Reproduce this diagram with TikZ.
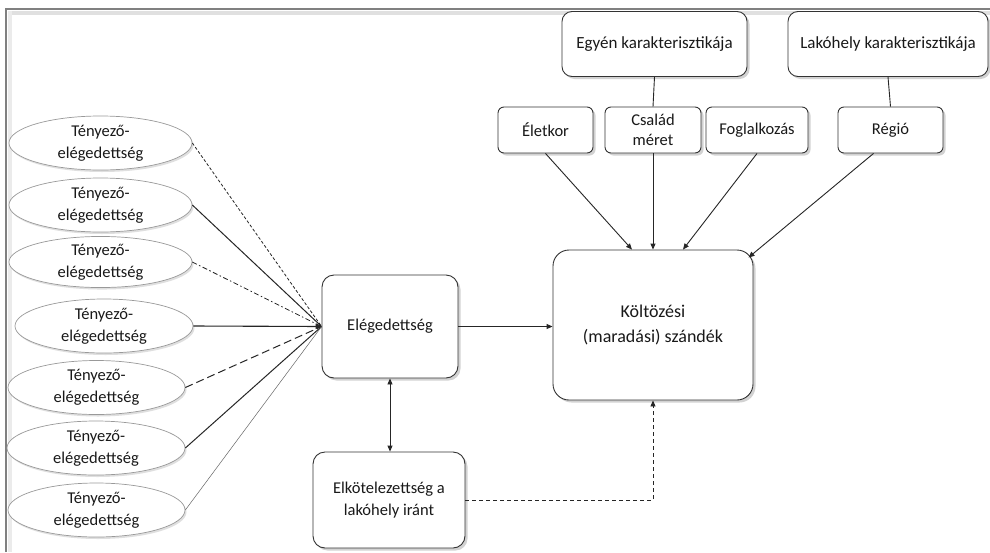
\documentclass[tikz,border=0pt]{standalone}
\usepackage{fontspec}
\setmainfont{Carlito}
\usetikzlibrary{shadows,arrows.meta,shapes.geometric}
\begin{document}
\begin{tikzpicture}[x=1pt,y=-1pt,
  every node/.style={font=\fontsize{16.5}{22}\selectfont, text=black!90},
  shd/.style={drop shadow={shadow xshift=2.5pt, shadow yshift=-2.5pt, opacity=0.35}},
  rbox/.style={draw=black!80, line width=0.9pt, fill=white, align=center, inner sep=0pt, shd},
  ell/.style={ellipse, draw=black!40, line width=0.7pt, fill=white, align=center, inner sep=0pt,
    minimum width=183pt, minimum height=54pt,
    drop shadow={shadow xshift=1.5pt, shadow yshift=-2pt, opacity=0.25}},
  tip/.style={-{Triangle[length=6pt,width=5pt]}},
  conn/.style={draw=black!85, line width=0.9pt}
]
\useasboundingbox (0,0) rectangle (990,552);
\fill[white] (0,0) rectangle (990,552);
% frame
\fill[black!12] (8,11) rectangle (990,15);
\fill[black!8] (8,11) rectangle (12,552);
\draw[black!50, line width=2pt] (6,552) -- (6,9) -- (990,9);

% top boxes
\node[rbox, rounded corners=10pt, minimum width=185pt, minimum height=65pt, font=\fontsize{17}{22}\selectfont] (egyen) at (654.5,44) {Egyén karakterisztikája};
\node[rbox, rounded corners=10pt, minimum width=200pt, minimum height=65pt, font=\fontsize{17}{22}\selectfont] (lakohely) at (888,44) {Lakóhely karakterisztikája};
\node[rbox, rounded corners=6pt, minimum width=95pt, minimum height=46pt] (eletkor) at (545.5,130) {Életkor};
\node[rbox, rounded corners=6pt, minimum width=96pt, minimum height=46pt, font=\fontsize{16.5}{20}\selectfont] (csalad) at (653,130) {Család\\méret};
\node[rbox, rounded corners=6pt, minimum width=102pt, minimum height=46pt] (foglal) at (757,130) {Foglalkozás};
\node[rbox, rounded corners=6pt, minimum width=105pt, minimum height=46pt] (regio) at (890.5,130) {Régió};

% main boxes
\node[rbox, rounded corners=16pt, minimum width=200pt, minimum height=150pt, font=\fontsize{18}{25}\selectfont] (kolt) at (653,325) {Költözési\\(maradási) szándék};
\node[rbox, rounded corners=12pt, minimum width=136pt, minimum height=103pt] (eleg) at (390,326.5) {Elégedettség};
\node[rbox, rounded corners=12pt, minimum width=152pt, minimum height=96pt] (elkot) at (389,500) {Elkötelezettség a\\lakóhely iránt};

% ellipses
\node[ell] (e1) at (100.5,143) {Tényező-\\elégedettség};
\node[ell] (e2) at (100.5,205) {Tényező-\\elégedettség};
\node[ell, minimum height=50pt] (e3) at (100.5,262) {Tényező-\\elégedettség};
\node[ell, minimum width=178pt] (e4) at (104,326) {Tényező-\\elégedettség};
\node[ell, minimum width=177pt] (e5) at (96.5,387.5) {Tényező-\\elégedettség};
\node[ell, minimum width=178pt] (e6) at (96,448) {Tényező-\\elégedettség};
\node[ell, minimum width=177pt] (e7) at (96.5,510) {Tényező-\\elégedettség};

% ellipse connectors
\draw[conn, line width=0.8pt, dash pattern=on 3pt off 2pt] (e1.east) -- (eleg.west);
\draw[conn, line width=1pt] (e2.east) -- (eleg.west);
\draw[conn, line width=0.8pt, dash pattern=on 5pt off 2.5pt on 1.5pt off 2.5pt] (e3.east) -- (eleg.west);
\draw[conn, line width=1.1pt, tip] (e4.east) -- (eleg.west);
\draw[conn, line width=1pt, dash pattern=on 8pt off 4pt] (e5.east) -- (eleg.west);
\draw[conn, line width=1pt] (e6.east) -- (eleg.west);
\draw[conn, line width=0.5pt, draw=black!60] (e7.east) -- (eleg.west);

% top connectors
\draw[conn] (egyen.south) -- (csalad.north);
\draw[conn] (lakohely.south) -- (regio.north);
\draw[conn, tip] (eletkor.south) -- ([xshift=-21pt]kolt.north);
\draw[conn, tip] (csalad.south) -- (kolt.north);
\draw[conn, tip] (foglal.south) -- ([xshift=30pt]kolt.north);
\draw[conn, tip] ([xshift=-17pt]regio.south) -- ([xshift=-5pt,yshift=-8pt]kolt.north east);

% middle connectors
\draw[conn, tip] (eleg.east) -- (eleg.east -| kolt.west);
\draw[conn, {Triangle[length=6pt,width=5pt]}-{Triangle[length=6pt,width=5pt]}] (eleg.south) -- (elkot.north -| eleg.south);
\draw[conn, dash pattern=on 4pt off 3pt, tip] (elkot.east) -- (elkot.east -| kolt.south) -- (kolt.south);
\end{tikzpicture}
\end{document}
